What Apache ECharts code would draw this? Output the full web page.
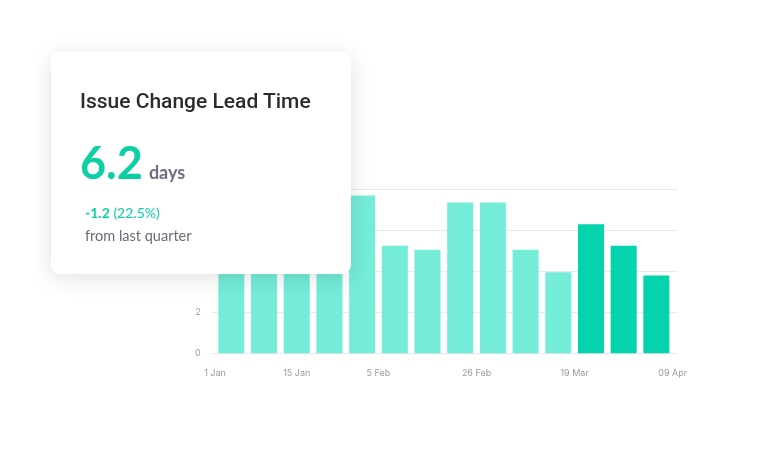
<!DOCTYPE html>
<html>
<head>
<meta charset="utf-8">
<script src="https://cdn.jsdelivr.net/npm/echarts@6/dist/echarts.min.js"></script>
<style>
  html, body { margin: 0; padding: 0; background: #fff; }
  #chart { width: 768px; height: 470px; }
  .card {
    position: absolute; left: 51px; top: 52px; width: 300px; height: 222px;
    background: #fff; border-radius: 9px;
    box-shadow: 0 4px 22px rgba(0, 0, 0, 0.12);
    font-family: Lato, "Noto Sans", sans-serif;
  }
  .card .title {
    position: absolute; left: 29px; top: 39px; line-height: 1;
    font-family: Roboto, sans-serif; font-size: 21px; font-weight: 500; color: #2b2b2b;
    white-space: nowrap;
  }
  .card .big { position: absolute; left: 29px; top: 88px; line-height: 1; white-space: nowrap; }
  .card .num { font-size: 45px; font-weight: 700; color: #0ccfa4; }
  .card .unit { font-size: 18px; font-weight: 700; color: #6e6e80; margin-left: 6px; }
  .card .delta { position: absolute; left: 34px; top: 154px; line-height: 1; font-size: 14px; color: #0ccfa4; white-space: nowrap; }
  .card .delta b { font-weight: 700; }
  .card .from { position: absolute; left: 34px; top: 177px; line-height: 1; font-size: 14.5px; color: #6b6b78; white-space: nowrap; }
</style>
</head>
<body>
<div id="chart"></div>
<div class="card">
  <div class="title">Issue Change Lead Time</div>
  <div class="big"><span class="num">6.2</span><span class="unit">days</span></div>
  <div class="delta"><b>-1.2</b> (22.5%)</div>
  <div class="from">from last quarter</div>
</div>
<script>
  // 每周的交付时间（天）
  const weeks = ['1 Jan', '8 Jan', '15 Jan', '22 Jan', '29 Jan', '5 Feb', '12 Feb',
    '19 Feb', '26 Feb', '5 Mar', '12 Mar', '19 Mar', '26 Mar', '2 Apr']
  const leadTime = [6.4, 5.9, 6.8, 6.1, 7.7, 5.25, 5.05, 7.35, 7.35, 5.05, 3.95, 6.3, 5.25, 3.8]
  // 本季度的周（深色）
  const currentQuarter = [false, false, false, false, false, false, false,
    false, false, false, false, true, true, true]

  // x 轴刻度标签及其所在的周序号
  const tickLabels = ['1 Jan', '15 Jan', '5 Feb', '26 Feb', '19 Mar', '09 Apr']
  const tickWeeks = [-0.5, 2, 4.5, 7.5, 10.5, 13.5]
  const yTicks = [0, 2, 4, 6, 8]

  const myChart = echarts.init(document.getElementById('chart'))
  const labelFont = { fontFamily: 'Inter, sans-serif', fontSize: 9, color: '#9a9a9a' }

  myChart.setOption({
    animation: false,
    grid: [
      { left: 215, right: 95.3, top: 189.3, bottom: 116.7 },
      { left: 211.7, right: 90, top: 189.3, bottom: 116.7 }
    ],
    xAxis: [
      {
        type: 'category', gridIndex: 0, data: weeks,
        axisLine: { show: false }, axisTick: { show: false }, axisLabel: { show: false }
      },
      {
        type: 'value', gridIndex: 0, position: 'bottom',
        min: -0.5, max: 13.5,
        axisLine: { show: false }, axisTick: { show: false }, splitLine: { show: false },
        axisLabel: {
          ...labelFont, margin: 15,
          customValues: tickWeeks,
          formatter: (v) => tickLabels[tickWeeks.indexOf(v)]
        }
      },
      {
        type: 'value', gridIndex: 1, min: 0, max: 1, show: false
      }
    ],
    yAxis: [
      {
        type: 'value', gridIndex: 0, min: yTicks[0], max: yTicks[yTicks.length - 1],
        interval: 2, show: false
      },
      {
        type: 'value', gridIndex: 1, min: yTicks[0], max: yTicks[yTicks.length - 1],
        interval: 2,
        axisLine: { show: false }, axisTick: { show: false },
        axisLabel: { ...labelFont, margin: 11 },
        splitLine: { lineStyle: { color: '#e9e9ec', width: 1 } }
      }
    ],
    series: [
      {
        type: 'bar',
        xAxisIndex: 0, yAxisIndex: 0,
        barCategoryGap: '20.5%',
        data: leadTime.map((v, i) => ({
          value: v,
          itemStyle: { color: currentQuarter[i] ? '#05d3ae' : '#74ecd8' }
        }))
      }
    ]
  })
</script>
</body>
</html>
